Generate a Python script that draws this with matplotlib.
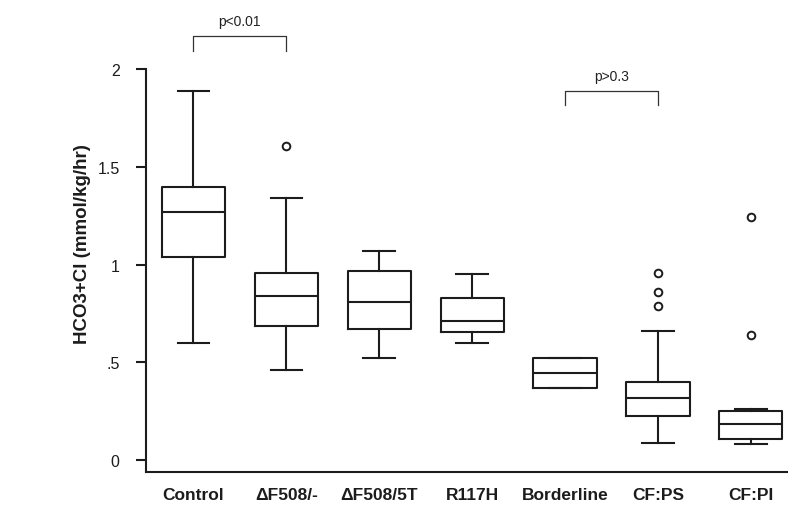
#!/usr/bin/env python3
# -*- coding: utf-8 -*-
"""
Boxplot de HCO3+Cl por grupo de genótipo.
Os quartis e os bigodes foram lidos do gráfico original.
"""
import matplotlib
matplotlib.use('Agg')
import matplotlib.pyplot as plt

# Grupos (eixo x)
grupos = ['Control', 'ΔF508/-', 'ΔF508/5T', 'R117H', 'Borderline', 'CF:PS', 'CF:PI']

# Estatísticas de cada caixa
q1 = [1.04, 0.685, 0.67, 0.655, 0.37, 0.225, 0.11]
mediana = [1.27, 0.84, 0.81, 0.71, 0.445, 0.32, 0.185]
q3 = [1.40, 0.96, 0.97, 0.83, 0.52, 0.40, 0.25]
bigode_inf = [0.60, 0.46, 0.525, 0.60, 0.37, 0.09, 0.08]
bigode_sup = [1.89, 1.34, 1.07, 0.95, 0.52, 0.66, 0.26]
outliers = [[], [1.61], [], [], [], [0.96, 0.86, 0.79], [1.245, 0.64]]

# Eixo y
y_ticks = [0, 0.5, 1, 1.5, 2]
y_labels = ['0', '.5', '1', '1.5', '2']

# Comparações anotadas no topo
comparacoes = [('Control', 'ΔF508/-', 'p<0.01'), ('Borderline', 'CF:PS', 'p>0.3')]
altura_comp = [2.17, 1.89]


def grafico():
    plt.rcParams['font.family'] = ['Liberation Sans', 'DejaVu Sans']
    cor = '#1c1c1c'

    fig = plt.figure(figsize=(7.88, 5.06), dpi=100)
    ax = fig.add_axes([0.1853, 0.0652, 0.8147, 0.9348])

    stats = []
    for i, g in enumerate(grupos):
        stats.append({
            'label': g, 'q1': q1[i], 'med': mediana[i], 'q3': q3[i],
            'whislo': bigode_inf[i], 'whishi': bigode_sup[i], 'fliers': outliers[i],
        })

    pos = list(range(1, len(grupos) + 1))
    ax.bxp(stats, positions=pos, widths=0.68, capwidths=0.34, showfliers=True,
           boxprops=dict(color=cor, linewidth=1.5),
           medianprops=dict(color=cor, linewidth=1.5),
           whiskerprops=dict(color=cor, linewidth=1.5),
           capprops=dict(color=cor, linewidth=1.5),
           flierprops=dict(marker='o', markersize=5.5, markerfacecolor='none',
                           markeredgecolor=cor, markeredgewidth=1.4))

    # Colchetes de comparação
    for (a, b, txt), h in zip(comparacoes, altura_comp):
        xa = grupos.index(a) + 1
        xb = grupos.index(b) + 1
        ax.plot([xa, xa, xb, xb], [h - 0.075, h, h, h - 0.075],
                color='#333333', lw=0.9, clip_on=False)
        ax.text((xa + xb) / 2, h + 0.04, txt, ha='center', va='bottom',
                fontsize=10, color='#222222')

    y_min = -0.061
    ax.set_xlim(0.49, 7.4)
    ax.set_ylim(y_min, 2.36)
    ax.set_yticks(y_ticks)
    ax.set_yticklabels(y_labels, fontsize=11.5)
    ax.set_xticks(pos)
    ax.set_xticklabels(grupos, fontsize=12.5, fontweight='bold')

    ax.spines['top'].set_visible(False)
    ax.spines['right'].set_visible(False)
    ax.spines['left'].set_bounds(y_min, 2)
    for s in ['left', 'bottom']:
        ax.spines[s].set_linewidth(1.5)
        ax.spines[s].set_color(cor)
    ax.tick_params(axis='y', direction='out', length=7.5, width=1.5, pad=11.5, colors=cor)
    ax.tick_params(axis='x', length=0, pad=10.5, colors=cor)

    ax.set_ylabel('HCO3+Cl (mmol/kg/hr)', fontsize=13.5, fontweight='bold', color=cor)
    ax.yaxis.set_label_coords(-0.0857, 0.485)

    fig.savefig('out.png', dpi=100)
    print("Gráfico salvo em out.png")


if __name__ == "__main__":
    grafico()
